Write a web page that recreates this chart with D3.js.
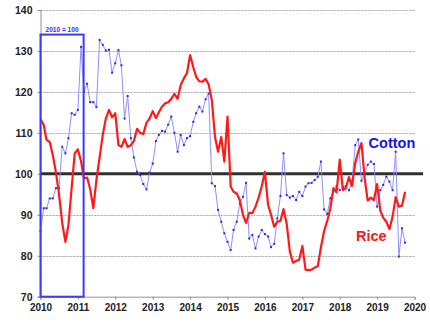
<!DOCTYPE html>
<html><head><meta charset="utf-8">
<script src="https://cdn.jsdelivr.net/npm/d3@7"></script>
<style>body{margin:0;background:#fff}svg{display:block}</style>
</head><body>
<svg id="c" width="430" height="322"></svg>
<script>
const startYear = 2010, startMonth = 0;
const cotton = [86,91.6,91.6,94,94,96.5,96.5,106.6,105,108.7,114.8,114.4,
115.6,131,120,122,117.5,117.5,116.3,132.7,131.5,130.1,130.3,124.7,
127,130.2,126.5,113.5,119,108.7,104,100.5,99.7,97.5,96.2,100.3,
102.5,108,109.5,110.5,110.3,112,114,110,105.4,109.5,107,108.7,
109.2,112.7,114.8,116.4,115.2,118.2,119.6,97.7,97,91.2,88.3,85.5,
83.4,81.4,86.3,88.3,92.8,94.4,97.8,84.2,85.1,81.8,84.7,86.3,
85.3,84.7,82.1,82.9,89.1,94.6,105,94.8,94.2,94.6,93.6,95.6,
94.6,96.9,97.7,97.8,98.5,99.3,103,91.3,90.2,94,96,97,
96,96.7,97,96,98.1,107,108.4,98.3,100.1,102.2,103,102.4,
92,96,97.3,99.3,98.1,96,105.4,79.8,86.7,83.2];
const rice = [113.3,112,108.3,107.8,104.6,100.3,95,88,83.4,87.5,96.5,105,
106,103,98.9,99.1,96.3,91.6,98.5,104,109.5,113.5,115.6,113.8,
114.8,107,106.6,108.5,106.6,107,108,111,110,109.7,112.5,113.5,
115.3,113.6,115,116.4,117.2,117.5,118.3,119.5,118.3,121.7,123.3,124.6,
129,126,123.7,122.6,122.5,123.2,121.8,118,109,105.4,109,103,
114,96.9,95.6,95.2,93.6,90,88,90.5,90.4,92,94.2,96.9,
100.5,92.5,90,87.1,88.3,88.5,91.4,87.8,81,78.3,78.7,79,
82.4,76.6,76.5,76.6,77.1,77.5,82,86,88.5,91.5,96.5,95.5,
103.5,96,96.5,99.2,97,102.6,105.4,107.5,99,93.5,94.2,93.6,
97.5,91,89.3,88.3,86.5,89.5,94.3,92,92.2,95.6];
const yTicks = [70,80,90,100,110,120,130,140];
const xTickYears = [2010,2011,2012,2013,2014,2015,2016,2017,2018,2019,2020];
const baseValue = 100;
const baseBox = {from:[2010,0,1], to:[2011,1,26], top:134, label:"2010 = 100"};
const seriesLabels = [{name:"Cotton", date:[2018,9,10], value:106.3}, {name:"Rice", date:[2018,5,8], value:83.6}];

const svg = d3.select("#c");
const x = d3.scaleTime().domain([new Date(2010,0,1), new Date(2020,0,1)]).range([40.5, 414.5]);
const y = d3.scaleLinear().domain([70,140]).range([296.7, 10]);
const date = i => new Date(startYear, startMonth + i, 1);

// grid
svg.append("g").selectAll("line").data(yTicks.filter(v => v !== 70 && v !== baseValue)).join("line")
  .attr("x1", 40.5).attr("x2", 415).attr("y1", d => Math.round(y(d))+0.5).attr("y2", d => Math.round(y(d))+0.5)
  .attr("stroke", "#a8a8a8").attr("stroke-width", 1).attr("stroke-dasharray", "2,1");

// axes
const yAxis = d3.axisLeft(y).tickValues(yTicks).tickSize(3).tickPadding(5);
const gy = svg.append("g").attr("transform", "translate(40.5,0)").call(yAxis);
gy.select(".domain").attr("stroke", "#909090");
gy.selectAll(".tick line").attr("stroke", "#909090");
gy.selectAll("text").attr("font-family", "Liberation Sans, Arial, sans-serif").attr("font-weight", "bold")
  .attr("font-size", "10.5px").attr("fill", "#222");

const xAxis = d3.axisBottom(x).tickValues(xTickYears.map(yy => new Date(yy,0,1))).tickFormat(d3.timeFormat("%Y")).tickSize(3).tickPadding(4);
const gx = svg.append("g").attr("transform", "translate(0,296.7)").call(xAxis);
gx.select(".domain").attr("stroke", "#909090");
gx.selectAll(".tick line").attr("stroke", "#909090");
gx.selectAll("text").attr("font-family", "Liberation Sans, Arial, sans-serif").attr("font-weight", "bold")
  .attr("font-size", "10px").attr("fill", "#222");

// baseline 100
svg.append("line").attr("x1", 40.5).attr("x2", 423).attr("y1", y(baseValue)).attr("y2", y(baseValue))
  .attr("stroke", "#303030").attr("stroke-width", 3);

// cotton
const cLine = d3.line().x((d,i) => x(date(i))).y(d => y(d));
svg.append("path").datum(cotton).attr("d", cLine).attr("fill", "none").attr("stroke", "#8f8fff").attr("stroke-width", 1);
svg.append("g").selectAll("rect").data(cotton).join("rect")
  .attr("x", (d,i) => x(date(i)) - 1).attr("y", d => y(d) - 1).attr("width", 2).attr("height", 2).attr("fill", "#2a2ae0");

// rice
svg.append("path").datum(rice).attr("d", cLine).attr("fill", "none").attr("stroke", "#ff1a1a")
  .attr("stroke-width", 2.2).attr("stroke-linejoin", "round");

// base box
const bx0 = x(new Date(...baseBox.from)), bx1 = x(new Date(...baseBox.to));
svg.append("rect").attr("x", bx0).attr("y", y(baseBox.top)).attr("width", bx1 - bx0).attr("height", y(70) - y(baseBox.top))
  .attr("fill", "none").attr("stroke", "#3a3aff").attr("stroke-width", 2);
svg.append("text").attr("x", (bx0 + bx1)/2).attr("y", y(baseBox.top) - 2.5).attr("text-anchor", "middle")
  .attr("font-family", "Liberation Sans, Arial, sans-serif").attr("font-weight", "bold").attr("font-size", "8px")
  .attr("fill", "#3030ff").attr("textLength", 33).attr("lengthAdjust", "spacingAndGlyphs").text(baseBox.label);

// series labels
const labelColors = {Cotton: "#1515e8", Rice: "#ee1c24"};
svg.append("g").selectAll("text").data(seriesLabels).join("text")
  .attr("x", d => x(new Date(...d.date))).attr("y", d => y(d.value))
  .attr("font-family", "Liberation Sans, Arial, sans-serif").attr("font-weight", "bold").attr("font-size", "14.5px")
  .attr("fill", d => labelColors[d.name]).text(d => d.name);
</script>
</body></html>
